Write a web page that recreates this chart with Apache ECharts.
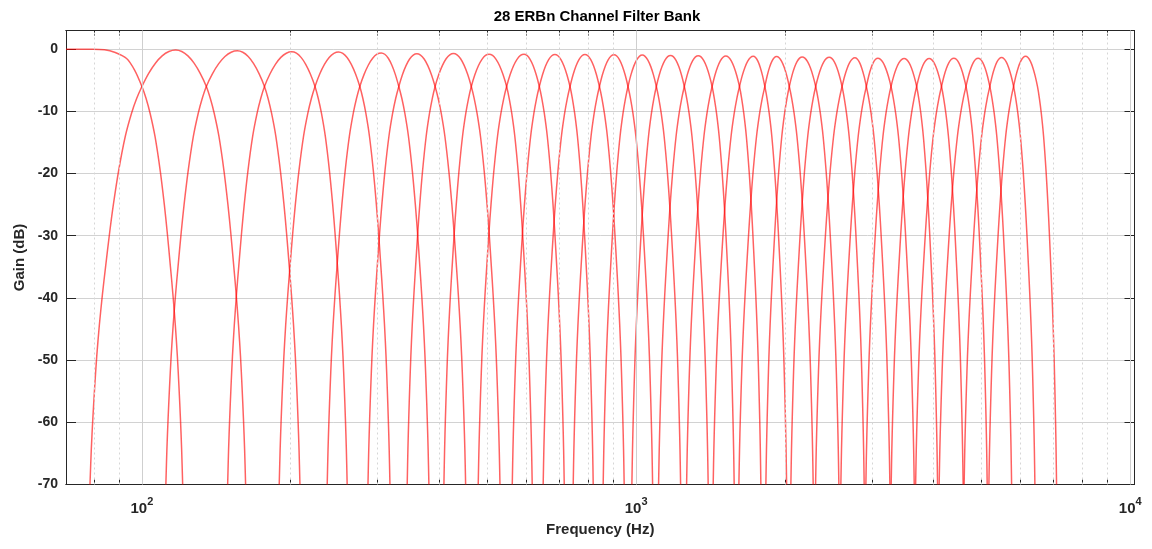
<!DOCTYPE html>
<html>
<head>
<meta charset="utf-8">
<script src="https://cdn.jsdelivr.net/npm/echarts@6/dist/echarts.min.js"></script>
<style>
  html, body { margin: 0; background: #fff; }
  #chart { width: 1152px; height: 549px; }
</style>
</head>
<body>
<div id="chart"></div>
<script>
// axis ranges and ticks
const xRange = [70.2, 10200];
const yRange = [-70, 3];
const majorHz = [100, 1000, 10000];
const minorHz = [80, 90, 200, 300, 400, 500, 600, 700, 800, 900,
  2000, 3000, 4000, 5000, 6000, 7000, 8000, 9000];
const yTicks = [-70, -60, -50, -40, -30, -20, -10, 0];

// channel 1: low-pass edge channel, flat top read point by point, skirt ends at 120.9 Hz
const lowpassHz = [70.2, 79.6, 84, 88, 93.1, 96.7, 100];
const lowpassDb = [0, 0, -0.1, -0.5, -1.5, -3.4, -6];
const lowpassEndHz = 120.9;

// channels 2..29: peak frequency, peak gain, and where each side hits -70 dB
const centreHz = [117, 156, 201, 250, 305, 360, 427, 504, 593, 685, 788, 902, 1029, 1174,
  1336, 1519, 1726, 1924, 2168, 2459, 2772, 3085, 3487, 3918, 4396, 4922, 5490, 6140];
const peakDb = [-0.15, -0.27, -0.43, -0.45, -0.6, -0.75, -0.7, -0.8, -0.8, -0.85, -0.85, -0.9,
  -0.95, -1.0, -1.05, -1.1, -1.15, -1.2, -1.25, -1.3, -1.4, -1.45, -1.5, -1.5, -1.45, -1.45,
  -1.35, -1.15];
const lo70Hz = [78.5, 111.8, 149.1, 189.6, 237.1, 286.7, 344.2, 408.4, 479.2, 561.6, 648.6,
  746.0, 857.8, 980.6, 1110.5, 1265.4, 1432.2, 1614.4, 1830.8, 2056.9, 2307.9, 2596.5,
  2917.4, 3282.6, 3678.6, 4104.9, 4611.5, 5175.6];
const hi70Hz = [162.1, 208.8, 260.2, 317.6, 380.8, 451.9, 530.3, 616.3, 715.5, 818.9, 946.0,
  1080.0, 1230.5, 1399.2, 1579.4, 1788.6, 2016.5, 2282.3, 2572.4, 2894.4, 3262.8, 3654.7,
  4074.4, 4590.1, 5134.7, 5753.0, 6412.7, 7093.5];
// where neighbouring channels meet (about -6 dB); last entry is the right side of channel 29
const crossHz = [100, 135, 177, 224, 276, 331, 392, 464, 547, 637, 735, 843, 963, 1099, 1252,
  1425, 1619, 1822, 2042, 2309, 2611, 2924, 3280, 3696, 4150, 4652, 5198, 5806, 6490];

// shape: top part (peak -> -6 dB) and skirt (-6 dB -> -70 dB)
const topPos = [0, 0.2, 0.4, 0.6, 0.8, 1];
const topFrac = [0, 0.04, 0.16, 0.36, 0.64, 1];
const skirtPos = [0, 0.1, 0.2, 0.32, 0.45, 0.55, 0.62, 0.7, 0.76, 0.82, 0.87, 0.91, 0.945, 0.975, 1];
const skirtDb = [-6, -7.9, -10.3, -14, -19.6, -25, -29.4, -35, -39.4, -44.4, -49.4, -54.4, -59.4, -64.4, -70];

const FONT = "'Liberation Sans', Arial, Helvetica, sans-serif";
const INK = '#262626';
const CURVE = 'rgba(255, 0, 0, 0.62)';

const along = (from, to, t) => Math.exp(Math.log(from) + t * (Math.log(to) - Math.log(from)));

const lowpassPoints = () => {
  const pts = lowpassHz.map((f, k) => [f, lowpassDb[k]]);
  const start = lowpassHz[lowpassHz.length - 1];
  for (let j = 1; j < skirtPos.length; j++) pts.push([along(start, lowpassEndHz, skirtPos[j]), skirtDb[j]]);
  return pts;
};

const channelPoints = (i) => {
  const c = centreHz[i];
  const p = peakDb[i];
  const left6 = crossHz[i];
  const right6 = crossHz[i + 1];
  const pts = [];
  for (let j = skirtPos.length - 1; j > 0; j--) pts.push([along(left6, lo70Hz[i], skirtPos[j]), skirtDb[j]]);
  for (let j = topPos.length - 1; j > 0; j--) pts.push([along(c, left6, topPos[j]), p + (-6 - p) * topFrac[j]]);
  pts.push([c, p]);
  for (let j = 1; j < topPos.length; j++) pts.push([along(c, right6, topPos[j]), p + (-6 - p) * topFrac[j]]);
  for (let j = 1; j < skirtPos.length; j++) pts.push([along(right6, hi70Hz[i], skirtPos[j]), skirtDb[j]]);
  return pts;
};

const curveSeries = (name, data) => ({
  name,
  type: 'line',
  data,
  xAxisIndex: 0,
  yAxisIndex: 0,
  smooth: 0.3,
  symbol: 'none',
  clip: true,
  z: 3,
  lineStyle: { color: CURVE, width: 1.5 },
  emphasis: { disabled: true }
});

const series = [];
series.push({
  name: 'grid',
  type: 'line',
  data: [],
  xAxisIndex: 0,
  yAxisIndex: 0,
  z: 1,
  silent: true,
  markLine: {
    silent: true,
    symbol: ['none', 'none'],
    animation: false,
    label: { show: false },
    emphasis: { disabled: true },
    data: [
      ...majorHz.map(v => ({ xAxis: v, lineStyle: { color: '#cfcfcf', width: 1, type: 'solid' } })),
      ...minorHz.map(v => ({ xAxis: v, lineStyle: { color: '#d6d6d6', width: 1, type: [2, 3] } }))
    ]
  }
});
series.push(curveSeries('ch1', lowpassPoints()));
centreHz.forEach((_, i) => series.push(curveSeries('ch' + (i + 2), channelPoints(i))));

const gridBox = { left: 66, right: 17.5, top: 30.5, bottom: 64.5 };

const xAxisBase = (gridIndex, position, ticks, tickLen) => ({
  type: 'log',
  logBase: 10,
  gridIndex,
  position,
  min: xRange[0],
  max: xRange[1],
  axisLine: { show: true, onZero: false, lineStyle: { color: INK, width: 1 } },
  axisTick: { show: true, inside: true, length: tickLen, customValues: ticks, lineStyle: { color: INK, width: 1 } },
  axisLabel: { show: false },
  splitLine: { show: false }
});

const yAxisBase = (gridIndex, position, show) => ({
  type: 'value',
  gridIndex,
  position,
  show,
  min: yRange[0],
  max: yRange[1],
  interval: 10,
  axisLine: { show: true, onZero: false, lineStyle: { color: INK, width: 1 } },
  axisTick: { show: true, inside: true, length: 10, customValues: yTicks, lineStyle: { color: INK, width: 1 } },
  axisLabel: { show: false },
  splitLine: { show: false }
});

const bottomAxis = xAxisBase(0, 'bottom', majorHz, 10);
bottomAxis.axisLabel = {
  show: true,
  customValues: majorHz,
  margin: 12,
  formatter: (v) => `{b|10}{s|${Math.round(Math.log10(v))}}`,
  rich: {
    b: { fontFamily: FONT, fontSize: 15, fontWeight: 'bold', color: INK, lineHeight: 20, verticalAlign: 'bottom' },
    s: { fontFamily: FONT, fontSize: 11, fontWeight: 'bold', color: INK, lineHeight: 12, verticalAlign: 'top' }
  }
};
bottomAxis.name = 'Frequency (Hz)';
bottomAxis.nameLocation = 'middle';
bottomAxis.nameGap = 38;
bottomAxis.nameTextStyle = { fontFamily: FONT, fontSize: 15, fontWeight: 'bold', color: INK };

const leftAxis = yAxisBase(0, 'left', true);
leftAxis.axisLabel = {
  show: true,
  customValues: yTicks,
  margin: 8,
  fontFamily: FONT,
  fontSize: 14,
  fontWeight: 'bold',
  color: INK
};
leftAxis.splitLine = { show: true, lineStyle: { color: '#d2d2d2', width: 1 } };
leftAxis.name = 'Gain (dB)';
leftAxis.nameLocation = 'middle';
leftAxis.nameGap = 37;
leftAxis.nameTextStyle = { fontFamily: FONT, fontSize: 15, fontWeight: 'bold', color: INK };

const option = {
  animation: false,
  backgroundColor: '#ffffff',
  grid: [Object.assign({}, gridBox), Object.assign({}, gridBox)],
  graphic: [{
    type: 'text',
    x: 597,
    y: 17,
    silent: true,
    style: {
      text: '28 ERBn Channel Filter Bank',
      fontFamily: FONT,
      fontSize: 15,
      fontWeight: 'bold',
      fill: '#000',
      align: 'center',
      verticalAlign: 'middle'
    }
  }],
  xAxis: [
    bottomAxis,
    xAxisBase(0, 'top', majorHz, 10),
    xAxisBase(1, 'bottom', minorHz, 5),
    xAxisBase(1, 'top', minorHz, 5)
  ],
  yAxis: [
    leftAxis,
    yAxisBase(0, 'right', true),
    yAxisBase(1, 'left', false)
  ],
  series
};

const chart = echarts.init(document.getElementById('chart'), null, { renderer: 'canvas' });
chart.setOption(option);
</script>
</body>
</html>
